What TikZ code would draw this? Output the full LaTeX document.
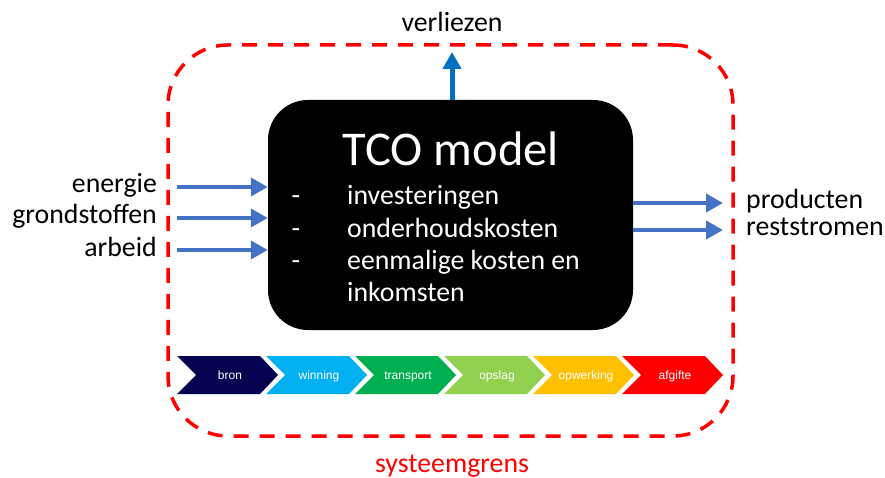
\documentclass[tikz,border=0pt]{standalone}
\usepackage{fontspec}
\setmainfont{Carlito}
\newfontfamily\stagefont{Liberation Sans}
\usetikzlibrary{arrows.meta}

\definecolor{flowblue}{HTML}{4472C4}
\definecolor{lossblue}{HTML}{0070C0}
\definecolor{chBron}{HTML}{03034F}
\definecolor{chWinning}{HTML}{00B0F0}
\definecolor{chTransport}{HTML}{00B050}
\definecolor{chOpslag}{HTML}{92D050}
\definecolor{chOpwerking}{HTML}{FFC000}
\definecolor{chAfgifte}{HTML}{FF0000}

\tikzset{
  flow/.style={-{Triangle[length=17pt,width=18pt]}, line width=4pt, flowblue},
  lbl/.style={inner sep=0pt, font=\fontsize{27.8}{31}\selectfont},
  item/.style={inner sep=0pt, white, font=\fontsize{27.8}{32}\selectfont},
  stagelbl/.style={inner sep=0pt, white, anchor=base, font=\stagefont\fontsize{12}{14}\selectfont}
}

\begin{document}
\begin{tikzpicture}[x=1pt, y=-1pt]
  \useasboundingbox (0,0) rectangle (885,478);

  % system boundary
  \node (grens) at (450.5, 240.5) [draw=red, line width=3.5pt, dash pattern=on 15pt off 11pt,
    rounded corners=60pt, minimum width=565pt, minimum height=391pt] {};
  \node (grenslbl) at (452, 472) [lbl, anchor=base, red] {systeemgrens};

  % model box
  \node (tco) at (450.5, 215) [fill=black, rounded corners=40pt,
    minimum width=365pt, minimum height=230pt] {};
  \node (title) at (451, 166) [anchor=base, inner sep=0pt, white,
    font=\fontsize{48.5}{52}\selectfont] {TCO model};
  \foreach \txt/\yb [count=\k] in {investeringen/205, onderhoudskosten/237, eenmalige kosten en/269} {
    \node (dash\k) at (296, \yb) [item, anchor=base] {-};
    \node (item\k) at (347, \yb) [item, anchor=base west] {\txt};
  }
  \node (item4) at (347, 301) [item, anchor=base west] {inkomsten};

  % losses
  \node (verliezen) at (452, 32) [lbl, anchor=base] {verliezen};
  \coordinate (lossend) at (452, 52);
  \draw[-{Triangle[length=17pt,width=18pt]}, line width=5pt, lossblue] (tco.north -| lossend) -- (lossend);

  % inputs
  \foreach \name/\y/\yb in {energie/187/193, grondstoffen/218/224, arbeid/250/256} {
    \node (\name) at (157, \yb) [lbl, anchor=base east] {\name};
    \coordinate (in-\name) at (177, \y);
    \draw[flow] (in-\name) -- (in-\name -| tco.west);
  }

  % outputs
  \foreach \name/\y/\yb in {producten/203/209, reststromen/230/236} {
    \node (\name) at (746, \yb) [lbl, anchor=base west] {\name};
    \coordinate (out-\name) at (723, \y);
    \draw[flow] (out-\name -| tco.east) -- (out-\name);
  }

  % chain of stages
  \foreach \name/\col [count=\i from 0] in {bron/chBron, winning/chWinning, transport/chTransport,
      opslag/chOpslag, opwerking/chOpwerking, afgifte/chAfgifte} {
    \pgfmathsetmacro{\xa}{177 + 89*\i}
    \fill[\col] (\xa, 356) -- ++(83, 0) -- ++(18, 19) -- ++(-18, 19) -- ++(-83, 0) -- ++(19, -19) -- cycle;
    \node (st-\name) at (\xa + 53, 379) [stagelbl] {\name};
  }
\end{tikzpicture}
\end{document}
